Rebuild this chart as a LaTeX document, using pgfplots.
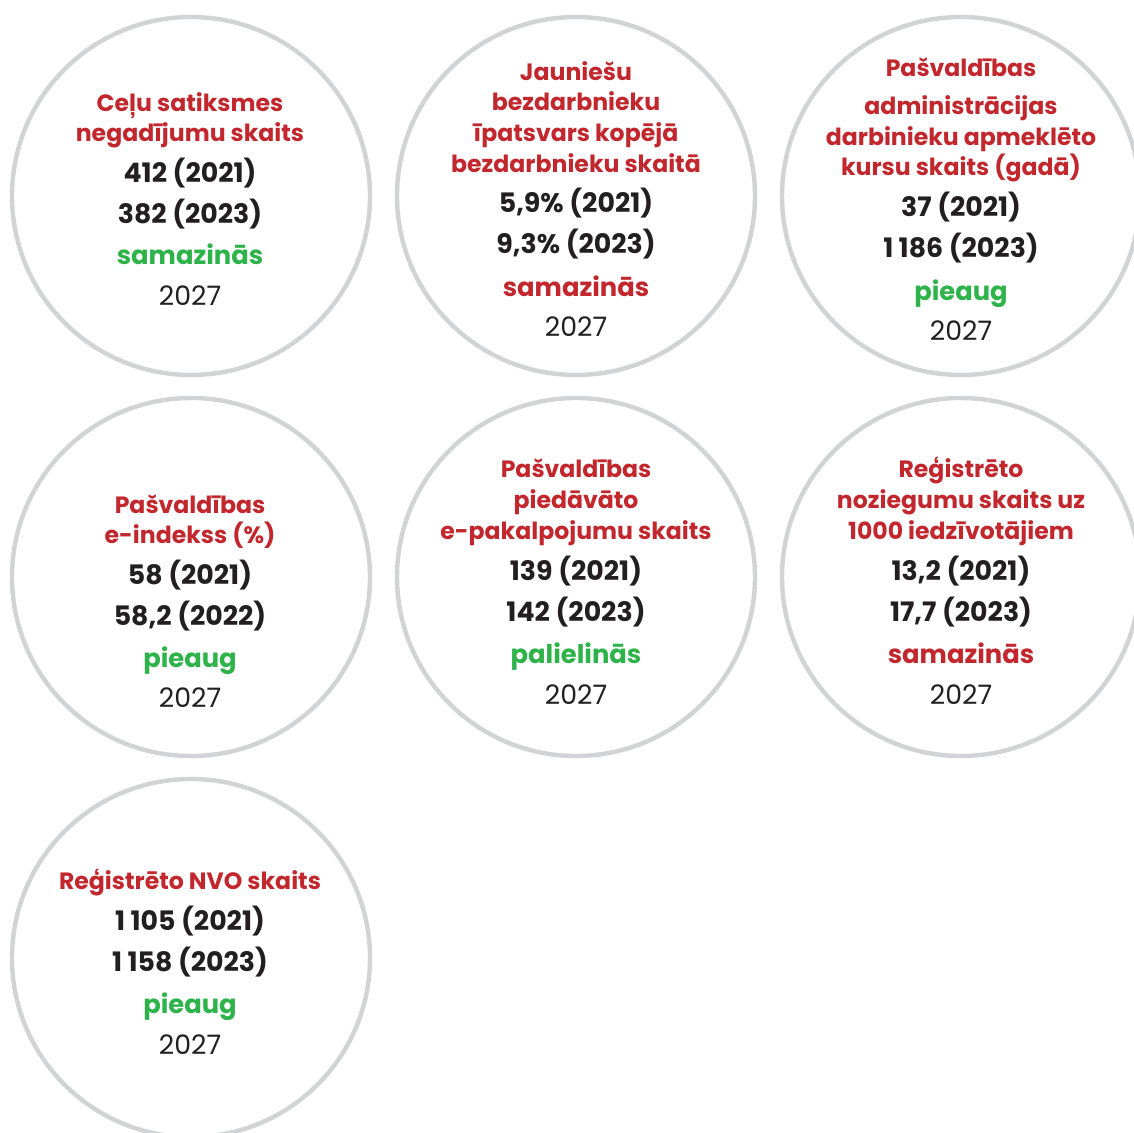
\documentclass[border=0pt]{standalone}
\usepackage{fontspec}
\setmainfont{Poppins}
\usepackage{pgfplots}
\pgfplotsset{compat=1.18}
\definecolor{cred}{HTML}{C1272D}
\definecolor{cgreen}{HTML}{2DB34A}
\definecolor{cdark}{HTML}{231F20}
\definecolor{cgray}{HTML}{D2D3D5}
\newcommand{\R}[3]{\node[anchor=base,text=cred,font=\fontsize{11.8pt}{14pt}\selectfont\bfseries] at (axis cs:#1,#2) {#3};}
\newcommand{\B}[3]{\node[anchor=base,text=cdark,font=\fontsize{13.4pt}{15pt}\selectfont\bfseries] at (axis cs:#1,#2) {#3};}
\newcommand{\G}[3]{\node[anchor=base,text=cgreen,font=\fontsize{12.9pt}{15pt}\selectfont\bfseries] at (axis cs:#1,#2) {#3};}
\newcommand{\Y}[3]{\node[anchor=base,text=cdark,font=\fontsize{13.4pt}{15pt}\selectfont] at (axis cs:#1,#2) {#3};}
\newcommand{\ts}{\hspace{0.2em}}
\begin{document}
\begin{tikzpicture}
\begin{axis}[
  scale only axis, width=567pt, height=566.5pt,
  xmin=0, xmax=1134, ymin=0, ymax=1133, y dir=reverse,
  hide axis, clip=true, clip marker paths=true,
]
\addplot[only marks, mark=*, mark size=89.5pt,
  mark options={draw=cgray, fill=white, line width=2.2pt}]
  coordinates {(191,196) (576,196) (961,196) (191,577) (576,577) (961,577) (191,958)};
% circle 1
\R{190}{112}{Ceļu satiksmes}
\R{190}{142}{negadījumu skaits}
\B{190}{183}{412 (2021)}
\B{190}{224}{382 (2023)}
\G{190}{265}{samazinās}
\Y{190}{306}{2027}
% circle 2
\R{576}{81}{Jauniešu}
\R{576}{111}{bezdarbnieku}
\R{576}{142}{īpatsvars kopējā}
\R{576}{173}{bezdarbnieku skaitā}
\B{576}{213}{5,9\% (2021)}
\B{576}{254}{9,3\% (2023)}
\R{576}{297}{\fontsize{12.9pt}{15pt}\selectfont samazinās}
\Y{576}{337}{2027}
% circle 3
\R{961}{77}{Pašvaldības}
\R{961}{115}{administrācijas}
\R{961}{146}{darbinieku apmeklēto}
\R{961}{176}{kursu skaits (gadā)}
\B{961}{217}{37 (2021)}
\B{961}{258}{1\ts186 (2023)}
\G{961}{301}{pieaug}
\Y{961}{341}{2027}
% circle 4
\R{190}{513}{Pašvaldības}
\R{190}{543}{e-indekss (\%)}
\B{190}{584}{58 (2021)}
\B{190}{625}{58,2 (2022)}
\G{190}{667}{pieaug}
\Y{190}{707}{2027}
% circle 5
\R{576}{478}{Pašvaldības}
\R{576}{509}{piedāvāto}
\R{576}{539}{e-pakalpojumu skaits}
\B{576}{580}{139 (2021)}
\B{576}{621}{142 (2023)}
\G{576}{663}{palielinās}
\Y{576}{704}{2027}
% circle 6
\R{961}{478}{Reģistrēto}
\R{961}{509}{noziegumu skaits uz}
\R{961}{539}{1000 iedzīvotājiem}
\B{961}{580}{13,2 (2021)}
\B{961}{621}{17,7 (2023)}
\R{961}{663}{\fontsize{12.9pt}{15pt}\selectfont samazinās}
\Y{961}{704}{2027}
% circle 7
\R{190}{889}{Reģistrēto NVO skaits}
\B{190}{930}{1\ts105 (2021)}
\B{190}{971}{1\ts158 (2023)}
\G{190}{1013}{pieaug}
\Y{190}{1054}{2027}
\end{axis}
\pgfresetboundingbox
\useasboundingbox (current axis.south west) rectangle (current axis.north east);
\end{tikzpicture}
\end{document}
